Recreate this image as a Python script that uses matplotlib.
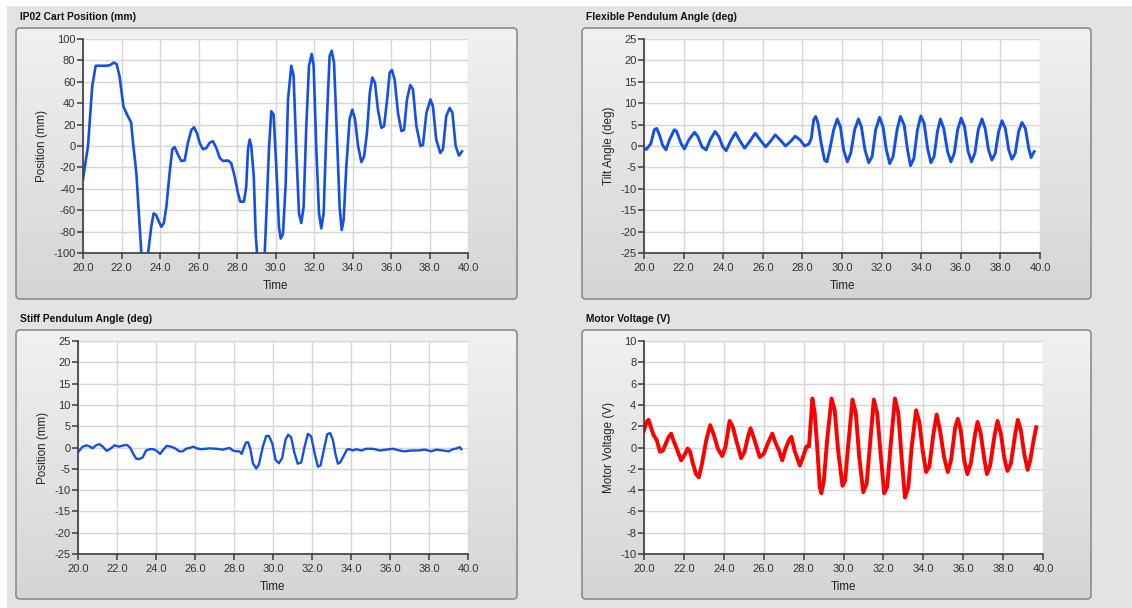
import numpy as np
import matplotlib
matplotlib.use("Agg")
import matplotlib.pyplot as plt
from matplotlib.patches import FancyBboxPatch, Rectangle
from matplotlib.transforms import IdentityTransform
from matplotlib.colors import LinearSegmentedColormap
from matplotlib.ticker import MultipleLocator, FormatStrFormatter

plt.rcParams['font.family'] = ['Liberation Sans', 'DejaVu Sans']
plt.rcParams['axes.unicode_minus'] = False

# ---- data ----
cart_t = [20.0, 20.26, 20.48, 20.66, 21.0, 21.2, 21.4, 21.6, 21.75, 21.9, 22.1, 22.3, 22.5, 22.6,
          22.77, 22.9, 23.03, 23.15, 23.38, 23.55, 23.67, 23.8, 23.95, 24.07, 24.2, 24.33, 24.5,
          24.64, 24.76, 24.93, 25.1, 25.28, 25.45, 25.63, 25.77, 25.92, 26.06, 26.23, 26.4, 26.58,
          26.75, 26.93, 27.1, 27.27, 27.53, 27.7, 27.88, 28.05, 28.17, 28.36, 28.48, 28.57, 28.66,
          28.74, 28.87, 28.97, 29.04, 29.2, 29.44, 29.52, 29.66, 29.78, 29.9, 30.04, 30.18, 30.27,
          30.39, 30.53, 30.65, 30.82, 30.94, 31.08, 31.22, 31.34, 31.46, 31.6, 31.74, 31.88, 31.98,
          32.12, 32.26, 32.38, 32.5, 32.64, 32.81, 32.92, 33.04, 33.2, 33.33, 33.44, 33.54, 33.68,
          33.85, 33.99, 34.13, 34.29, 34.46, 34.6, 34.75, 34.9, 35.03, 35.17, 35.32, 35.5, 35.64,
          35.8, 35.93, 36.05, 36.19, 36.36, 36.54, 36.68, 36.83, 37.0, 37.14, 37.32, 37.53, 37.66,
          37.84, 38.05, 38.18, 38.35, 38.56, 38.7, 38.87, 39.05, 39.19, 39.36, 39.53, 39.69]
cart_pos = [-31, 0, 56, 75, 75, 75, 75.5, 78, 76.5, 65, 37, 29, 22, 3,
            -25, -63, -100, -115, -100, -75, -63, -64.5, -71, -75.5, -72, -57, -25,
            -3, -1, -8, -14, -13.5, 3, 15, 17.5, 12, 3, -3, -2, 3,
            4.5, -2, -11, -14, -13.5, -16, -28.5, -44, -52, -52, -38, -3, 6,
            0, -28, -82, -100, -118, -100, -66, -3, 32.5, 29.5, -19, -75.5, -86.5,
            -82, -35, 43.5, 75, 65.5, -3.5, -63, -72, -57, 18.5, 75, 86, 75,
            -3, -63, -77, -63, 12, 84, 89, 78, 6, -57, -78.5, -69, -19,
            25, 34, 25, 0, -15, -10, 12, 50, 64, 59, 34, 17, 18.5,
            43.5, 68.5, 71, 62, 31, 14, 15, 43.5, 57, 53, 18.5, 0, 1,
            31, 43.5, 37, 6, -6.5, -3, 28, 35.5, 31, 0, -9, -5]

flex_t = [20.0, 20.12, 20.35, 20.52, 20.64, 20.78, 20.94, 21.11, 21.28, 21.53, 21.65, 21.87, 22.04,
          22.26, 22.55, 22.72, 22.93, 23.14, 23.34, 23.59, 23.78, 23.98, 24.15, 24.4, 24.62, 24.82,
          25.08, 25.33, 25.62, 25.87, 26.14, 26.37, 26.63, 26.88, 27.15, 27.39, 27.64, 27.89, 28.11,
          28.33, 28.45, 28.57, 28.67, 28.79, 28.95, 29.12, 29.24, 29.38, 29.58, 29.76, 29.92, 30.08,
          30.27, 30.44, 30.64, 30.83, 30.98, 31.16, 31.35, 31.52, 31.7, 31.9, 32.07, 32.24, 32.41,
          32.58, 32.78, 32.95, 33.14, 33.31, 33.46, 33.63, 33.81, 33.98, 34.15, 34.32, 34.49, 34.65,
          34.82, 34.97, 35.14, 35.33, 35.5, 35.67, 35.84, 36.02, 36.19, 36.37, 36.54, 36.71, 36.88,
          37.07, 37.23, 37.4, 37.57, 37.74, 37.91, 38.08, 38.25, 38.42, 38.58, 38.75, 38.92, 39.09,
          39.26, 39.43, 39.55, 39.66, 39.71]
flex_angle = [-0.5, -0.8, 0.6, 3.8, 4.1, 2.6, 0.2, -0.9, 1.4, 3.8, 3.4, 0.6, -0.7,
              1.4, 3.2, 2.2, -0.2, -0.9, 1.4, 3.4, 2.2, -0.2, -1.1, 1.4, 3.1, 1.4,
              -0.5, 1.0, 3.0, 1.4, -0.2, 1.0, 2.6, 1.4, 0.0, 1.0, 2.3, 1.4, 0.0,
              0.5, 1.8, 6.1, 6.9, 5.3, 0.6, -3.3, -3.7, -0.9, 3.8, 6.3, 4.5, -0.9,
              -3.7, -1.7, 3.8, 6.3, 4.5, -0.9, -3.9, -2.5, 3.8, 6.7, 4.5, -0.9, -4.1,
              -2.5, 3.8, 6.9, 4.9, -0.9, -4.6, -2.9, 3.8, 7.0, 5.3, -0.5, -3.9, -2.5,
              3.4, 6.3, 4.1, -1.3, -3.7, -1.7, 3.8, 6.5, 4.5, -1.3, -3.7, -1.7, 3.8,
              6.3, 4.1, -0.9, -3.3, -1.7, 3.4, 5.9, 4.1, -0.9, -3.1, -1.7, 3.4, 5.5,
              4.1, -0.5, -2.7, -1.7, -1.3]

stiff_t = [20.0, 20.24, 20.44, 20.62, 20.75, 20.92, 21.1, 21.27, 21.47, 21.69, 21.86, 22.12, 22.33,
           22.51, 22.67, 22.81, 22.98, 23.15, 23.32, 23.49, 23.66, 23.87, 24.04, 24.21, 24.38, 24.55,
           24.77, 24.98, 25.2, 25.37, 25.54, 25.8, 25.92, 26.09, 26.31, 26.57, 26.74, 27.08, 27.43,
           27.77, 27.94, 28.14, 28.28, 28.4, 28.49, 28.62, 28.73, 28.83, 28.97, 29.14, 29.27, 29.48,
           29.65, 29.79, 29.96, 30.13, 30.3, 30.47, 30.64, 30.78, 30.93, 31.1, 31.27, 31.45, 31.62,
           31.79, 31.96, 32.13, 32.3, 32.44, 32.61, 32.78, 32.93, 33.07, 33.21, 33.33, 33.45, 33.62,
           33.79, 33.93, 34.1, 34.27, 34.53, 34.78, 35.12, 35.47, 35.81, 36.15, 36.49, 36.75, 37.09,
           37.43, 37.78, 38.12, 38.37, 38.72, 39.02, 39.23, 39.44, 39.57, 39.66]
stiff_angle = [-1.1, 0.2, 0.5, 0.2, -0.2, 0.5, 0.8, 0.2, -0.8, -0.2, 0.5, 0.2, 0.5,
               0.6, 0.0, -1.3, -2.6, -2.7, -2.3, -0.7, -0.4, -0.4, -0.8, -1.5, -0.5, 0.4,
               0.2, -0.2, -0.9, -0.9, -0.3, 0.0, 0.2, -0.2, -0.4, -0.3, -0.2, -0.3, -0.5,
               -0.1, -0.7, -0.9, -0.9, -1.5, -0.2, 1.2, 1.2, -0.2, -3.7, -4.9, -4.1, 0.2,
               2.7, 2.7, 1.0, -2.9, -3.7, -2.5, 1.8, 3.0, 2.4, -1.3, -3.8, -3.5, 0.2,
               3.2, 2.6, -1.3, -4.5, -4.2, -0.5, 3.1, 3.4, 1.8, -1.7, -3.8, -3.5, -2.0,
               -0.5, -0.4, -0.7, -0.4, -0.7, -0.3, -0.3, -0.7, -0.5, -0.3, -0.7, -0.9, -0.7,
               -0.7, -0.5, -0.9, -0.5, -0.7, -0.9, -0.4, -0.2, 0.1, -0.4]

volt_t = [20.0, 20.13, 20.23, 20.35, 20.47, 20.64, 20.8, 20.94, 21.1, 21.24, 21.36, 21.47, 21.64,
          21.86, 22.03, 22.19, 22.31, 22.45, 22.61, 22.75, 22.91, 23.12, 23.32, 23.48, 23.7, 23.92,
          24.09, 24.29, 24.46, 24.62, 24.87, 25.04, 25.21, 25.34, 25.54, 25.8, 26.0, 26.21, 26.43,
          26.6, 26.77, 26.93, 27.1, 27.27, 27.39, 27.55, 27.81, 27.97, 28.14, 28.27, 28.34, 28.44,
          28.56, 28.68, 28.81, 28.89, 29.01, 29.18, 29.4, 29.56, 29.73, 29.95, 30.08, 30.23, 30.45,
          30.62, 30.79, 30.99, 31.16, 31.32, 31.52, 31.69, 31.86, 32.04, 32.19, 32.36, 32.58, 32.75,
          32.91, 33.08, 33.25, 33.42, 33.64, 33.8, 33.97, 34.14, 34.3, 34.51, 34.67, 34.84, 35.04,
          35.23, 35.39, 35.6, 35.73, 35.88, 36.05, 36.21, 36.38, 36.6, 36.72, 36.88, 37.05, 37.19,
          37.35, 37.56, 37.72, 37.89, 38.06, 38.22, 38.39, 38.61, 38.74, 38.89, 39.06, 39.23, 39.36,
          39.53, 39.66]
volt_v = [1.6, 2.4, 2.6, 1.9, 1.2, 0.7, -0.4, -0.3, 0.4, 1.0, 1.3, 0.7, -0.1,
          -1.2, -0.7, -0.1, -0.4, -1.5, -2.5, -2.8, -1.5, 0.7, 2.1, 1.3, -0.1, -0.8,
          0.1, 2.5, 1.9, 0.7, -1.0, -0.4, 1.0, 1.8, 0.7, -0.9, -0.6, 0.4, 1.3,
          0.4, -0.3, -1.2, -0.1, 0.7, 1.0, -0.3, -1.7, -0.9, 0.1, 0.1, 1.9, 4.6,
          3.2, 0.1, -3.7, -4.3, -3.2, 0.7, 4.6, 3.5, -0.3, -3.6, -3.1, 0.1, 4.5,
          3.2, -0.9, -4.2, -3.4, 0.1, 4.5, 3.2, -0.6, -4.3, -3.7, 0.1, 4.6, 3.2,
          -0.9, -4.7, -3.7, 0.1, 3.5, 2.4, -0.3, -2.3, -1.8, 1.3, 3.1, 1.6, -0.9,
          -2.3, -1.2, 1.9, 2.7, 1.6, -1.2, -2.5, -1.5, 1.3, 2.4, 1.3, -1.0, -2.5,
          -1.7, 1.0, 2.5, 1.3, -1.0, -2.2, -1.5, 1.3, 2.6, 1.6, -0.6, -2.1, -1.2,
          0.7, 1.9]

titles = ['IP02 Cart Position (mm)', 'Flexible Pendulum Angle (deg)',
          'Stiff Pendulum Angle (deg)', 'Motor Voltage (V)']
ylabels = ['Position (mm)', 'Tilt Angle (deg)', 'Position (mm)', 'Motor Voltage (V)']

# ---- layout in pixels (x0, y0 from top-left) ----
W, H = 1132, 608
fig = plt.figure(figsize=(W / 100, H / 100), dpi=100, facecolor='white')
fig.add_artist(Rectangle((7, 0), W - 7, H - 6, transform=IdentityTransform(),
                         facecolor='#e3e3e3', edgecolor='none', zorder=-10))


def frac(x0, y0, x1, y1):
    return [x0 / W, 1 - y1 / H, (x1 - x0) / W, (y1 - y0) / H]


panel_cmap = LinearSegmentedColormap.from_list('panel', ['#f1f1f1', '#d5d5d5'])
grad = np.linspace(0, 1, 256).reshape(-1, 1)

panels = [
    dict(title_xy=(20, 17), box=(16, 28, 517, 299), plot=(83, 39, 468, 253),
         t=cart_t, y=cart_pos, ylim=(-100, 100), step=20, color='#1450e6', lw=1.9),
    dict(title_xy=(586, 17), box=(582, 28, 1091, 299), plot=(644, 39, 1040, 253),
         t=flex_t, y=flex_angle, ylim=(-25, 25), step=5, color='#1450e6', lw=2.1),
    dict(title_xy=(20, 319), box=(16, 330, 517, 599), plot=(78, 341, 468, 554),
         t=stiff_t, y=stiff_angle, ylim=(-25, 25), step=5, color='#1450e6', lw=1.7),
    dict(title_xy=(586, 319), box=(582, 330, 1091, 599), plot=(644, 341, 1043, 554),
         t=volt_t, y=volt_v, ylim=(-10, 10), step=2, color='#ff0000', lw=2.8),
]

for i, p in enumerate(panels):
    bx0, by0, bx1, by1 = p['box']
    # panel frame with vertical gradient
    bg = fig.add_axes(frac(*p['box']))
    bg.set_axis_off()
    im = bg.imshow(grad, extent=[0, 1, 0, 1], aspect='auto', cmap=panel_cmap)
    frame = FancyBboxPatch((bx0, H - by1), bx1 - bx0, by1 - by0,
                           boxstyle='round,pad=0,rounding_size=4',
                           transform=IdentityTransform(), facecolor='none',
                           edgecolor='#8c8c8c', linewidth=1.2)
    im.set_clip_path(frame)
    fig.add_artist(frame)

    tx, ty = p['title_xy']
    fig.text(tx / W, 1 - ty / H, titles[i], fontsize=7.4, fontweight='bold',
             va='center', ha='left', color='#111111')

    ax = fig.add_axes(frac(*p['plot']))
    ax.set_facecolor('white')
    ax.plot(p['t'], p['y'], color=p['color'], lw=p['lw'], solid_joinstyle='round')
    ax.set_xlim(20, 40)
    ax.set_ylim(*p['ylim'])
    ax.xaxis.set_major_locator(MultipleLocator(2))
    ax.xaxis.set_major_formatter(FormatStrFormatter('%.1f'))
    ax.yaxis.set_major_locator(MultipleLocator(p['step']))
    ax.grid(True, color='#d6d6d6', lw=1.0)
    ax.set_axisbelow(True)
    for s in ['top', 'right']:
        ax.spines[s].set_visible(False)
    for s in ['left', 'bottom']:
        ax.spines[s].set_color('#3c3c3c')
        ax.spines[s].set_linewidth(1.2)
    ax.tick_params(length=4, width=1.1, color='#3c3c3c', labelsize=8,
                   labelcolor='#333333')
    ax.tick_params(axis='x', pad=3)
    ax.tick_params(axis='y', pad=1.5)
    ax.set_xlabel('Time', fontsize=8.4, color='#222222', labelpad=5)
    ax.set_ylabel(ylabels[i], fontsize=8.4, color='#2a2222', labelpad=4)

fig.savefig('out.png', dpi=100, facecolor=fig.get_facecolor())
